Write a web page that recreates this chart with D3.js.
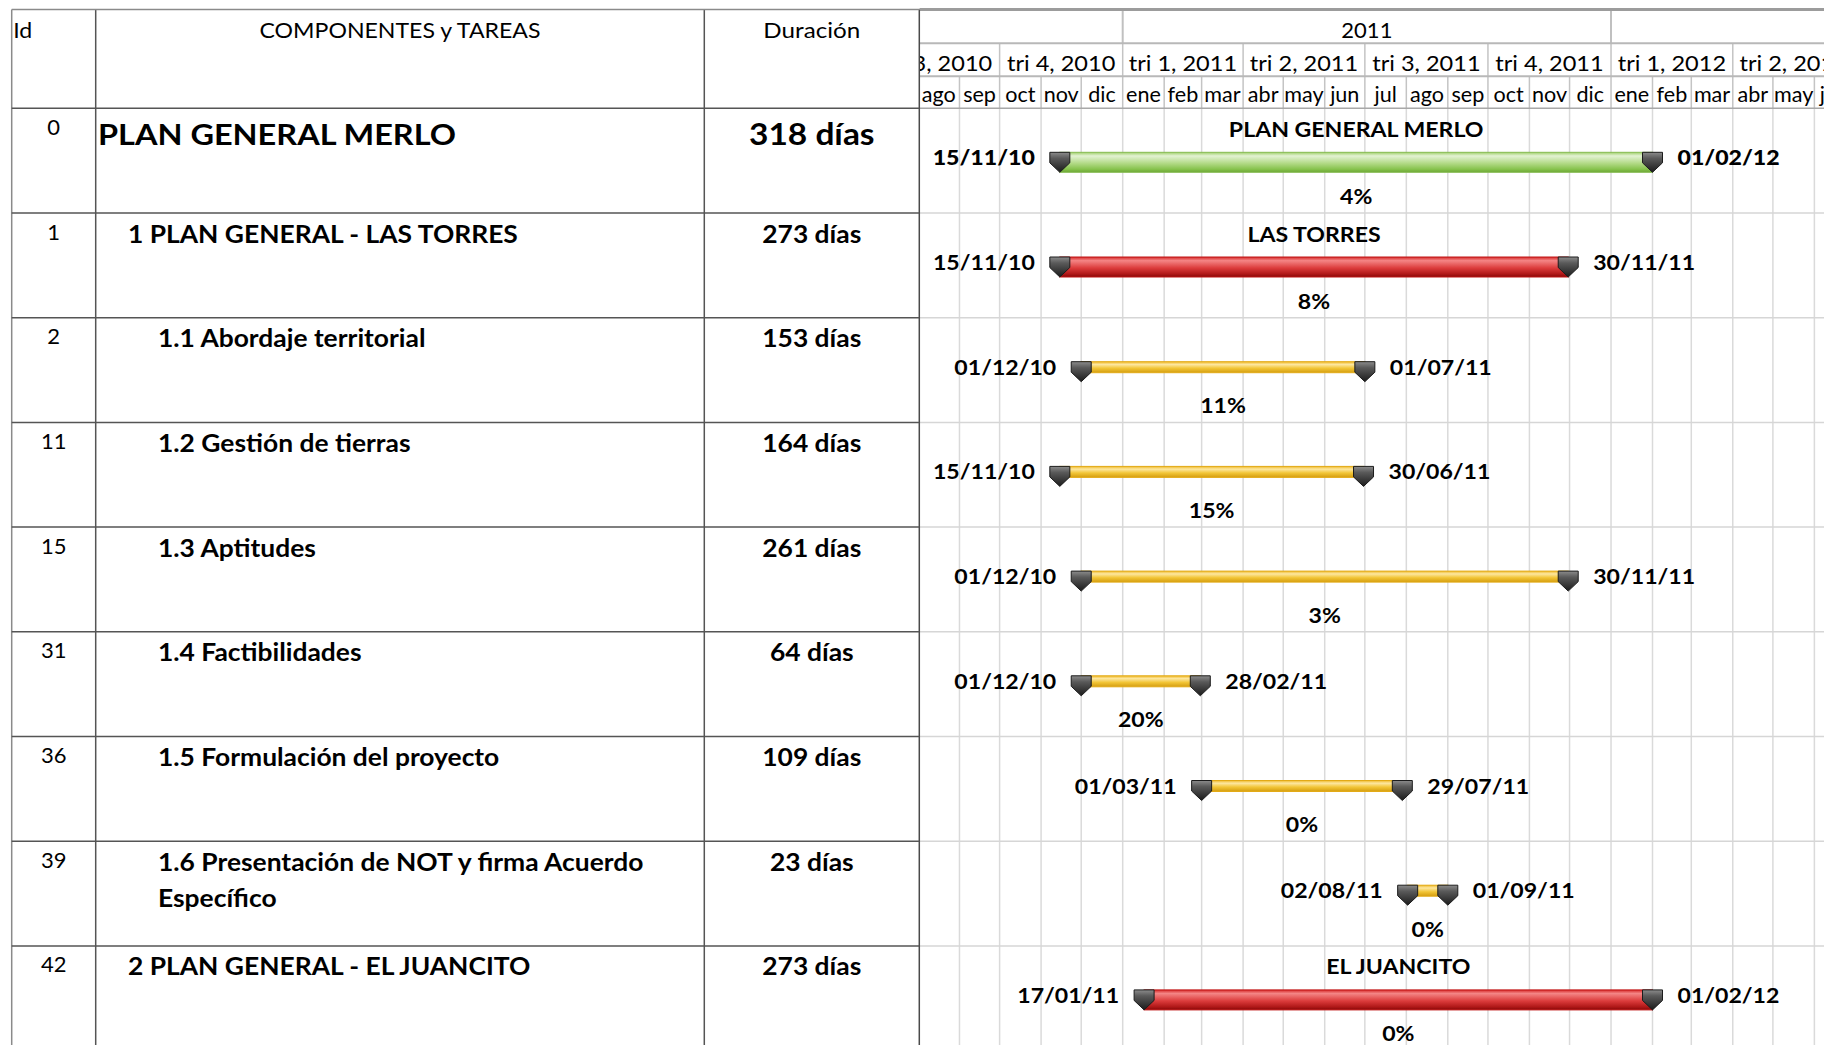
<!DOCTYPE html>
<html>
<head>
<meta charset="utf-8">
<script src="https://cdn.jsdelivr.net/npm/d3@7"></script>
<style>
  html, body { margin: 0; padding: 0; background: #fff; }
  svg { display: block; font-family: Lato, "Open Sans", "DejaVu Sans", sans-serif; }
</style>
</head>
<body>
<svg id="chart" width="1824" height="1045"></svg>
<script>
// ---- Project data -------------------------------------------------------
const taskIds = [0, 1, 2, 11, 15, 31, 36, 39, 42];
const taskNames = [
  "PLAN GENERAL MERLO",
  "1 PLAN GENERAL - LAS TORRES",
  "1.1 Abordaje territorial",
  "1.2 Gestión de tierras",
  "1.3 Aptitudes",
  "1.4 Factibilidades",
  "1.5 Formulación del proyecto",
  "1.6 Presentación de NOT y firma Acuerdo Específico",
  "2 PLAN GENERAL - EL JUANCITO"
];
const outlineLevels = [0, 1, 2, 2, 2, 2, 2, 2, 1];
const durationDays = [318, 273, 153, 164, 261, 64, 109, 23, 273];
const startDates = ["2010-11-15", "2010-11-15", "2010-12-01", "2010-11-15", "2010-12-01",
                    "2010-12-01", "2011-03-01", "2011-08-02", "2011-01-17"];
const endDates = ["2012-02-01", "2011-11-30", "2011-07-01", "2011-06-30", "2011-11-30",
                  "2011-02-28", "2011-07-29", "2011-09-01", "2012-02-01"];
const percentComplete = [4, 8, 11, 15, 3, 20, 0, 0, 0];
const barTitles = ["PLAN GENERAL MERLO", "LAS TORRES", "", "", "", "", "", "", "EL JUANCITO"];
const barKinds = ["proyecto", "resumen", "tarea", "tarea", "tarea", "tarea", "tarea", "tarea", "resumen"];

const headerLabels = ["Id", "COMPONENTES y TAREAS", "Duración"];
const monthNames = ["ene", "feb", "mar", "abr", "may", "jun", "jul", "ago", "sep", "oct", "nov", "dic"];
const quarterPrefix = "tri";
const timelineDomain = ["2010-08-01", "2012-02-01"];

// ---- Layout --------------------------------------------------------------
const W = 1824, H = 1045;
const colLeft = 11.7, colId = 95.7, colName = 704.3, colChart = 919.3;
const yTop = 9.5, yYear = 43.3, yQuarter = 76.3, yHead = 108.3, rowH = 104.7;
const chartX0 = 918, chartX1 = 1652.5;

const parse = d3.utcParse("%Y-%m-%d");
const fmtDate = d3.utcFormat("%d/%m/%y");

const x = d3.scaleUtc()
  .domain(timelineDomain.map(parse))
  .range([chartX0, chartX1]);

const svg = d3.select("#chart");
const defs = svg.append("defs");

function gradient(id, stops) {
  const g = defs.append("linearGradient").attr("id", id)
    .attr("x1", 0).attr("y1", 0).attr("x2", 0).attr("y2", 1);
  stops.forEach(([o, c]) => g.append("stop").attr("offset", o).attr("stop-color", c));
}
gradient("g-proyecto", [[0, "#9fcf6a"], [0.18, "#e3f2d3"], [0.55, "#b2da86"], [0.85, "#86c24c"], [1, "#6aa633"]]);
gradient("g-resumen", [[0, "#d62a2a"], [0.18, "#f48585"], [0.55, "#dc3c3c"], [0.85, "#b01818"], [1, "#880808"]]);
gradient("g-tarea", [[0, "#efb928"], [0.25, "#fde7a0"], [0.6, "#f2c536"], [1, "#d49d10"]]);
gradient("g-marker", [[0, "#8c8c8c"], [0.3, "#5a5a5a"], [1, "#1b1b1b"]]);

const barStroke = { proyecto: "#86bb52", resumen: "#c01616", tarea: "#e3aa16" };
const barHeight = { proyecto: 20, resumen: 20, tarea: 11 };

defs.append("clipPath").attr("id", "chart-clip")
  .append("rect").attr("x", colChart).attr("y", 0).attr("width", W - colChart).attr("height", H);

// text helper: Excel-like wide lettering via a horizontal scale
function label(g, txt, px, py, o) {
  return g.append("text")
    .attr("transform", `translate(${px},${py}) scale(${o.sx || 1},1)`)
    .attr("text-anchor", o.anchor || "start")
    .style("font-size", o.size + "px")
    .style("font-weight", o.weight || 400)
    .attr("fill", o.fill || "#000")
    .text(txt);
}

// centred header label; dropped when it falls wholly outside the timeline
function headLabel(g, txt, mid, py, o) {
  const t = label(g, txt, mid, py, o);
  const half = t.node().getComputedTextLength() * (o.sx || 1) / 2;
  if (mid + half <= colChart || mid - half >= W) t.remove();
  return t;
}

const rowTop = i => yHead + i * rowH;
const nRows = taskIds.length;

// ---- Timeline grid -------------------------------------------------------
const tEnd = x.invert(W);
const months = d3.utcMonth.range(d3.utcMonth.floor(x.invert(chartX0 - 200)), d3.utcMonth.offset(tEnd, 2));
const quarters = months.filter(d => d.getUTCMonth() % 3 === 0);
const years = months.filter(d => d.getUTCMonth() === 0);
const yearStarts = d3.utcYear.range(d3.utcYear.floor(x.invert(chartX0)), d3.utcYear.offset(tEnd, 1));

const grid = svg.append("g").attr("clip-path", "url(#chart-clip)");

// body gridlines
grid.selectAll("line.vgrid").data(months).join("line")
  .attr("x1", d => x(d)).attr("x2", d => x(d))
  .attr("y1", yHead).attr("y2", H)
  .attr("stroke", "#dadada").attr("stroke-width", 1.5);
grid.selectAll("line.hgrid").data(d3.range(1, nRows + 1)).join("line")
  .attr("x1", colChart).attr("x2", W)
  .attr("y1", d => rowTop(d)).attr("y2", d => rowTop(d))
  .attr("stroke", "#d6d6d6").attr("stroke-width", 1.5);

// header separators
grid.selectAll("line.msep").data(months).join("line")
  .attr("x1", d => x(d)).attr("x2", d => x(d))
  .attr("y1", yQuarter).attr("y2", yHead)
  .attr("stroke", "#c4c4c4").attr("stroke-width", 1.5);
grid.selectAll("line.qsep").data(quarters).join("line")
  .attr("x1", d => x(d)).attr("x2", d => x(d))
  .attr("y1", yYear).attr("y2", yQuarter)
  .attr("stroke", "#c4c4c4").attr("stroke-width", 1.5);
grid.selectAll("line.ysep").data(years).join("line")
  .attr("x1", d => x(d)).attr("x2", d => x(d))
  .attr("y1", yTop).attr("y2", yYear)
  .attr("stroke", "#c0c0c0").attr("stroke-width", 2);
[yYear, yQuarter].forEach(yy => grid.append("line")
  .attr("x1", colChart).attr("x2", W).attr("y1", yy).attr("y2", yy)
  .attr("stroke", "#b8b8b8").attr("stroke-width", 2));
grid.append("line").attr("x1", colChart).attr("x2", W).attr("y1", yHead).attr("y2", yHead)
  .attr("stroke", "#a8a8a8").attr("stroke-width", 1.5);
grid.append("line").attr("x1", colChart).attr("x2", W).attr("y1", yTop).attr("y2", yTop)
  .attr("stroke", "#9c9c9c").attr("stroke-width", 3);

// header labels
const headG = svg.append("g").attr("clip-path", "url(#chart-clip)");
yearStarts.forEach(d => {
  const mid = (x(d) + x(d3.utcYear.offset(d, 1))) / 2;
  headLabel(headG, d.getUTCFullYear(), mid, 38, { size: 22, sx: 1.0, anchor: "middle" });
});
d3.utcMonth.every(3).range(d3.utcYear.floor(x.invert(chartX0)), d3.utcMonth.offset(tEnd, 3)).forEach(d => {
  const mid = (x(d) + x(d3.utcMonth.offset(d, 3))) / 2;
  const q = Math.floor(d.getUTCMonth() / 3) + 1;
  headLabel(headG, `${quarterPrefix} ${q}, ${d.getUTCFullYear()}`, mid, 70.5, { size: 22, sx: 1.07, anchor: "middle" });
});
months.forEach(d => {
  const mid = (x(d) + x(d3.utcMonth.offset(d, 1))) / 2;
  headLabel(headG, monthNames[d.getUTCMonth()], mid, 102, { size: 22, sx: 0.98, anchor: "middle" });
});

// ---- Table ---------------------------------------------------------------
const table = svg.append("g");
label(table, headerLabels[0], colLeft + 1.5, 38, { size: 22, sx: 1.05 });
label(table, headerLabels[1], (colId + colName) / 2, 38, { size: 22, sx: 1.05, anchor: "middle" });
label(table, headerLabels[2], (colName + colChart) / 2, 38, { size: 22, sx: 1.1, anchor: "middle" });

taskIds.forEach((id, i) => {
  const T = rowTop(i);
  const top = outlineLevels[i] === 0;
  label(table, id, (colLeft + colId) / 2, T + 26.5, { size: 22, sx: 1.0, anchor: "middle" });

  const nx = colId + 2.3 + outlineLevels[i] * 30;
  const nSize = top ? 29 : 24, nSx = top ? 1.12 : 1.1;
  const base = top ? T + 36.5 : T + 29.5;
  // word wrap inside the name column
  const maxW = colName - nx - 12;
  const words = taskNames[i].split(" ");
  const lines = [];
  let cur = "";
  const probe = label(table, "", 0, -100, { size: nSize, sx: 1, weight: 700 });
  words.forEach(w => {
    const t = cur ? cur + " " + w : w;
    probe.text(t);
    if (probe.node().getComputedTextLength() * nSx > maxW && cur) { lines.push(cur); cur = w; }
    else cur = t;
  });
  lines.push(cur);
  probe.remove();
  lines.forEach((ln, k) => label(table, ln, nx, base + k * 36, { size: nSize, sx: nSx, weight: 700 }));

  label(table, `${durationDays[i]} días`, (colName + colChart) / 2, top ? T + 37 : T + 29.5,
    { size: top ? 31 : 24, sx: top ? 1.08 : 1.1, weight: 700, anchor: "middle" });
});

// table rules
const rules = svg.append("g").attr("stroke", "#555").attr("stroke-width", 1.5);
[colId, colName].forEach(cx => rules.append("line").attr("x1", cx).attr("x2", cx).attr("y1", yTop).attr("y2", H));
rules.append("line").attr("x1", colChart).attr("x2", colChart).attr("y1", yTop).attr("y2", H).attr("stroke", "#4a4a4a");
rules.append("line").attr("x1", colLeft).attr("x2", colLeft).attr("y1", yTop).attr("y2", H).attr("stroke", "#8a8a8a");
rules.append("line").attr("x1", colLeft).attr("x2", colChart).attr("y1", yTop).attr("y2", yTop).attr("stroke", "#8a8a8a");
d3.range(0, nRows + 1).forEach(i => rules.append("line")
  .attr("x1", colLeft).attr("x2", colChart).attr("y1", rowTop(i)).attr("y2", rowTop(i)));

// ---- Bars ----------------------------------------------------------------
const bars = svg.append("g").attr("clip-path", "url(#chart-clip)");
taskIds.forEach((id, i) => {
  const T = rowTop(i);
  const s = parse(startDates[i]), e = parse(endDates[i]);
  const xs = x(s), xe = x(e), mid = (xs + xe) / 2;
  const kind = barKinds[i];
  const by = T + 44;
  const strong = kind === "proyecto" ? 900 : 700;

  bars.append("rect")
    .attr("x", xs).attr("y", by)
    .attr("width", xe - xs).attr("height", barHeight[kind])
    .attr("fill", `url(#g-${kind})`)
    .attr("stroke", barStroke[kind]).attr("stroke-width", 1);

  [xs, xe].forEach(cx => bars.append("path")
    .attr("d", `M${cx - 10},${by} L${cx + 10},${by} L${cx + 10},${by + 10.5} L${cx},${by + 20} L${cx - 10},${by + 10.5} Z`)
    .attr("fill", "url(#g-marker)")
    .attr("stroke", "#1c1c1c").attr("stroke-width", 1));

  if (barTitles[i]) label(bars, barTitles[i], mid, T + 28.5, { size: 21, sx: 1.1, weight: 700, anchor: "middle" });
  label(bars, fmtDate(s), xs - 25, T + 57, { size: 21, sx: 1.1, weight: strong, anchor: "end" });
  label(bars, fmtDate(e), xe + 25, T + 57, { size: 21, sx: 1.1, weight: strong });
  label(bars, `${percentComplete[i]}%`, mid, T + 95.5, { size: 21, sx: 1.1, weight: 700, anchor: "middle" });
});
</script>
</body>
</html>
